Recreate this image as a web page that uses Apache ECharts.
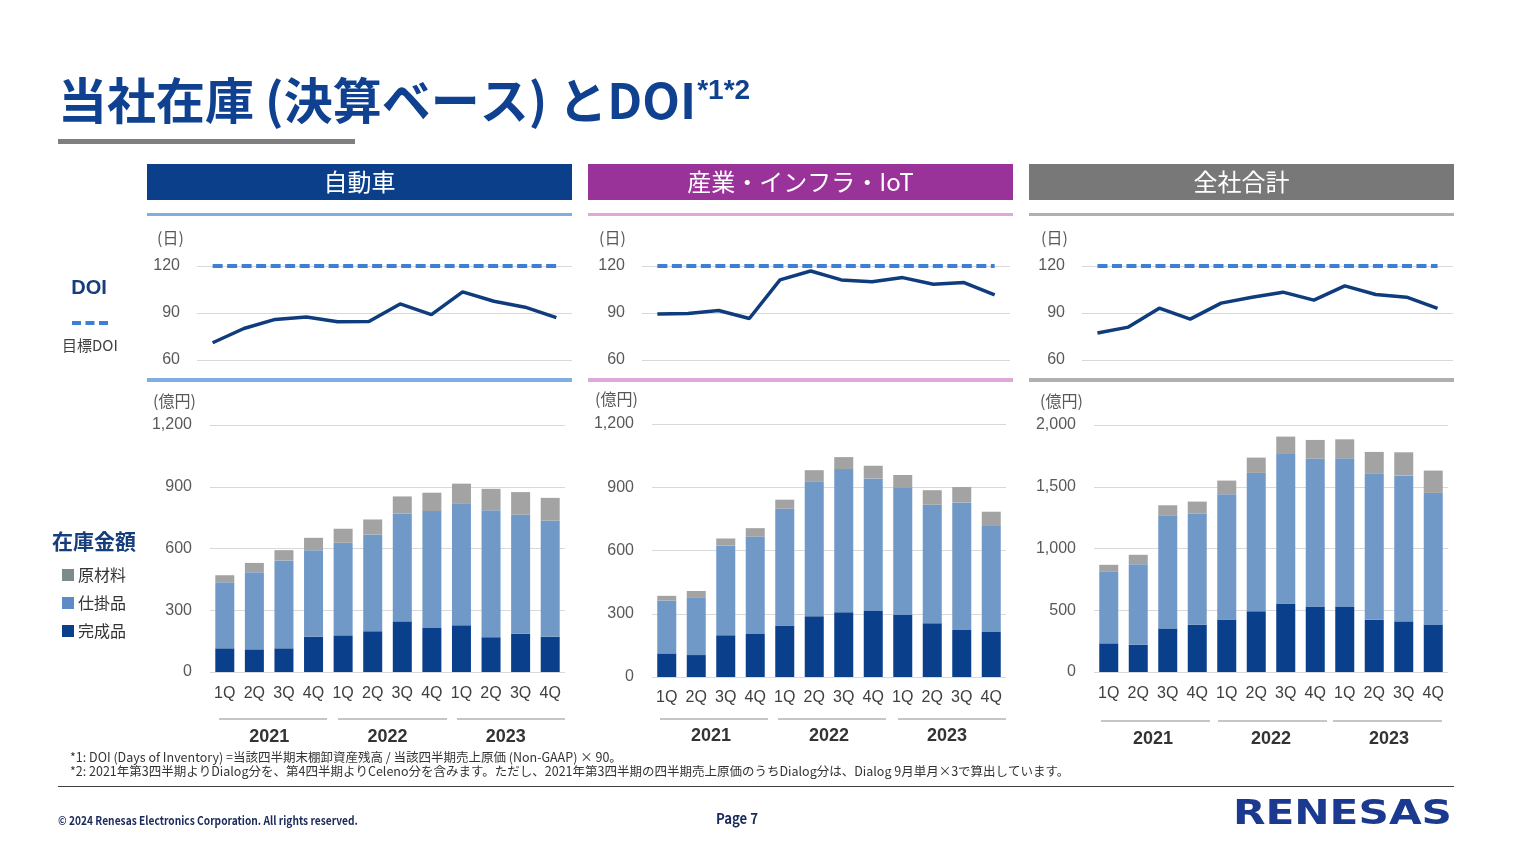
<!DOCTYPE html>
<html><head><meta charset="utf-8">
<script src="https://cdn.jsdelivr.net/npm/echarts@6/dist/echarts.min.js"></script>
<style>html,body{margin:0;padding:0;background:#fff;}#c{width:1513px;height:851px;}</style>
</head><body><div id="c"></div>
<script>
// ---- data ----
const quarters = ['1Q','2Q','3Q','4Q','1Q','2Q','3Q','4Q','1Q','2Q','3Q','4Q'];
const years = ['2021','2022','2023'];
const panelTitles = ['自動車','産業・インフラ・IoT','全社合計'];
const doiTarget = [120,120,120,120,120,120,120,120,120,120,120,120];
const autoDoi  = [71.0,80.1,85.9,87.4,84.4,84.6,95.8,89.0,103.5,97.5,93.7,87.1];
const indDoi   = [89.3,89.7,91.6,86.5,111.1,116.8,111.1,110.0,112.6,108.3,109.4,101.6];
const totalDoi = [77.2,81.0,93.1,86.1,96.3,100.1,103.3,98.2,107.3,101.8,100.1,92.9];
// 在庫金額 (億円)
const autoFinished = [115,110,115,172,178,198,246,214,227,169,186,172];
const autoWip      = [321,375,427,420,450,470,524,568,593,617,579,564];
const autoRaw      = [34,45,50,60,68,73,83,89,95,104,109,110];
const indFinished  = [112,104,198,204,244,288,307,313,294,255,223,214];
const indWip       = [251,271,426,462,554,641,679,629,602,562,605,502];
const indRaw       = [22,33,33,40,43,52,57,60,62,69,73,68];
const totFinished  = [232,221,353,383,426,491,555,531,526,423,410,385];
const totWip       = [579,652,917,900,1013,1121,1210,1197,1204,1181,1180,1065];
const totRaw       = [57,76,80,97,111,124,141,151,154,178,189,181];
const doiTicks = [60, 120, 30];            // min, max, interval
const barTicks = [[0,1200,300],[0,1200,300],[0,2000,500]];

// ---- styles ----
const FONT = '"Liberation Sans", Arial, "Noto Sans CJK JP", sans-serif';
const JP = '"Noto Sans CJK JP", "Liberation Sans", sans-serif';
const C_FIN = '#0a3f8b', C_WIP = '#7199c8', C_RAW = '#a3a3a3';
const C_DOI = '#0f3c7c', C_TGT = '#3d7fd4';
const headColors = ['#0b3f8a','#993399','#787878'];
const lineColors = ['#7eaee3','#dca9d8','#b0b0b0'];
const panelX = [147, 588, 1029];
const panelW = 425;

const lineGrids = [
  {left:197, top:266, width:375, height:94},
  {left:642, top:266, width:368, height:94},
  {left:1082, top:266, width:371, height:94}
];
const barGrids = [
  {left:210, top:425, width:355, height:247},
  {left:652, top:424, width:354, height:253},
  {left:1094, top:425, width:354, height:247}
];
const doiSets = [autoDoi, indDoi, totalDoi];
const barSets = [[autoFinished,autoWip,autoRaw],[indFinished,indWip,indRaw],[totFinished,totWip,totRaw]];
const yearMargins = [56, 50, 58];
const qMargins = [14, 13, 14];

function commas(v){ return String(v).replace(/\B(?=(\d{3})+(?!\d))/g, ','); }

const grid = [], xAxis = [], yAxis = [], series = [];
lineGrids.forEach((g,i)=>{
  grid.push(g);
  xAxis.push({type:'category', gridIndex:i, data:quarters, show:false});
  yAxis.push({type:'value', gridIndex:i, min:doiTicks[0], max:doiTicks[1], interval:doiTicks[2],
    axisLine:{show:false}, axisTick:{show:false},
    axisLabel:{color:'#595959', fontSize:16, fontFamily:FONT, margin:17},
    splitLine:{lineStyle:{color:'#d9d9d9', width:1}}});
  series.push({name:'目標DOI', type:'line', xAxisIndex:i, yAxisIndex:i, data:doiTarget, symbol:'none',
    lineStyle:{color:C_TGT, width:4, type:[10,4.5]}, silent:true, z:3});
  series.push({name:'DOI', type:'line', xAxisIndex:i, yAxisIndex:i, data:doiSets[i], symbol:'none',
    lineStyle:{color:C_DOI, width:3.5}, z:4});
});
barGrids.forEach((g,i)=>{
  const gi = 3+i;
  grid.push(g);
  const qIdx = xAxis.length;
  xAxis.push({type:'category', gridIndex:gi, data:quarters,
    axisLine:{show:false}, axisTick:{show:false},
    axisLabel:{color:'#404040', fontSize:16, fontFamily:FONT, margin:qMargins[i]}});
  xAxis.push({type:'category', gridIndex:gi, data:years, position:'bottom',
    axisLine:{show:false}, axisTick:{show:false}, splitLine:{show:false},
    axisLabel:{color:'#333', fontSize:18, fontWeight:'bold', fontFamily:FONT, margin:yearMargins[i]}});
  yAxis.push({type:'value', gridIndex:gi, min:barTicks[i][0], max:barTicks[i][1], interval:barTicks[i][2],
    axisLine:{show:false}, axisTick:{show:false},
    axisLabel:{color:'#595959', fontSize:16, fontFamily:FONT, margin:18, formatter:commas},
    splitLine:{lineStyle:{color:'#d9d9d9', width:1}}});
  const names = ['完成品','仕掛品','原材料'], cols = [C_FIN, C_WIP, C_RAW];
  barSets[i].forEach((d,k)=>{
    series.push({name:names[k], type:'bar', stack:'inv'+i, xAxisIndex:qIdx, yAxisIndex:gi,
      data:d, barWidth:19, itemStyle:{color:cols[k]}});
  });
});

// ---- decorations ----
const graphic = [];
panelX.forEach((x,i)=>{
  graphic.push({type:'rect', shape:{x:x, y:164, width:panelW, height:36}, style:{fill:headColors[i]}});
  graphic.push({type:'text', x:x+panelW/2, y:182, style:{text:panelTitles[i], fill:'#fff', font:'24px '+JP,
    textAlign:'center', textVerticalAlign:'middle'}});
  graphic.push({type:'rect', shape:{x:x, y:213, width:panelW, height:3}, style:{fill:lineColors[i]}});
  graphic.push({type:'rect', shape:{x:x, y:378, width:panelW, height:4}, style:{fill:lineColors[i]}});
});
// unit labels
[[157,238],[599,238],[1041,238]].forEach(p=>graphic.push({type:'text', x:p[0], y:p[1],
  style:{text:'(日)', fill:'#595959', font:'16px '+JP, textVerticalAlign:'middle'}}));
[[153,401],[595,399],[1040,401]].forEach(p=>graphic.push({type:'text', x:p[0], y:p[1],
  style:{text:'(億円)', fill:'#595959', font:'16px '+JP, textVerticalAlign:'middle'}}));
// year group lines
[[719,[[219,327],[338,447],[457,565]]],[719,[[660,768],[778,886],[898,1006]]],[721,[[1101,1210],[1218,1327],[1333,1442]]]]
.forEach(([y,segs])=>segs.forEach(s=>graphic.push({type:'line', shape:{x1:s[0], y1:y, x2:s[1], y2:y},
  style:{stroke:'#8c8c8c', lineWidth:1}})));
// title
graphic.push({type:'text', x:58, y:100, style:{
  text:'{m|当社在庫 (決算ベース) とDOI}{s|*1*2}',
  textVerticalAlign:'middle',
  rich:{m:{fill:'#0f4190', fontFamily:JP, fontSize:49, fontWeight:'bold', lineHeight:58},
        s:{fill:'#0f4190', fontFamily:FONT, fontSize:28, fontWeight:'bold', lineHeight:34, verticalAlign:'top', padding:[6,0,0,1]}}}});
graphic.push({type:'rect', shape:{x:58, y:139, width:297, height:5}, style:{fill:'#7f7f7f'}});
// left labels
graphic.push({type:'text', x:89, y:288, style:{text:'DOI', fill:'#163d7c', font:'bold 20px '+FONT, textAlign:'center', textVerticalAlign:'middle'}});
graphic.push({type:'line', shape:{x1:72, y1:323, x2:108, y2:323}, style:{stroke:C_TGT, lineWidth:4, lineDash:[9,4.5]}});
graphic.push({type:'text', x:62, y:345, style:{text:'目標DOI', fill:'#404040', font:'15px '+JP, textVerticalAlign:'middle'}});
graphic.push({type:'text', x:94, y:541, style:{text:'在庫金額', fill:'#163d7c', font:'bold 21px '+JP, textAlign:'center', textVerticalAlign:'middle'}});
// footnotes
graphic.push({type:'text', x:70, y:757, style:{text:'*1: DOI (Days of Inventory) =当該四半期末棚卸資産残高 / 当該四半期売上原価 (Non-GAAP) × 90。', fill:'#333', font:'12.5px '+JP, textVerticalAlign:'middle'}});
graphic.push({type:'text', x:70, y:771, style:{text:'*2: 2021年第3四半期よりDialog分を、第4四半期よりCeleno分を含みます。ただし、2021年第3四半期の四半期売上原価のうちDialog分は、Dialog 9月単月×3で算出しています。', fill:'#333', font:'12.5px '+JP, textVerticalAlign:'middle'}});
graphic.push({type:'line', shape:{x1:58, y1:786.5, x2:1454, y2:786.5}, style:{stroke:'#404040', lineWidth:1}});
graphic.push({type:'text', x:58, y:820, scaleX:0.85, style:{text:'© 2024 Renesas Electronics Corporation. All rights reserved.', fill:'#1a2a5a', font:'bold 12px '+JP, textVerticalAlign:'middle'}});
graphic.push({type:'text', x:737, y:818, scaleX:0.88, style:{text:'Page 7', fill:'#1a2a5a', font:'bold 15px '+JP, textAlign:'center', textVerticalAlign:'middle'}});
graphic.push({type:'text', x:1452, y:815, scaleX:1.28, style:{text:'RENESAS', fill:'#1b3a8f', font:'bold 33px "DejaVu Sans", sans-serif', textAlign:'right', textVerticalAlign:'middle'}});

const option = {
  animation:false,
  backgroundColor:'#fff',
  grid, xAxis, yAxis, series, graphic,
  legend:{orient:'vertical', left:62, top:567, padding:0, itemWidth:12, itemHeight:12, itemGap:12, icon:'rect',
    selectedMode:false,
    textStyle:{color:'#333', fontSize:16, fontFamily:JP, lineHeight:16, padding:[0,0,0,-1]},
    data:[{name:'原材料', itemStyle:{color:'#7b8c8c'}},{name:'仕掛品', itemStyle:{color:'#5e8ac6'}},{name:'完成品', itemStyle:{color:C_FIN}}]}
};
const chart = echarts.init(document.getElementById('c'), null, {renderer:'canvas'});
chart.setOption(option);
</script></body></html>
